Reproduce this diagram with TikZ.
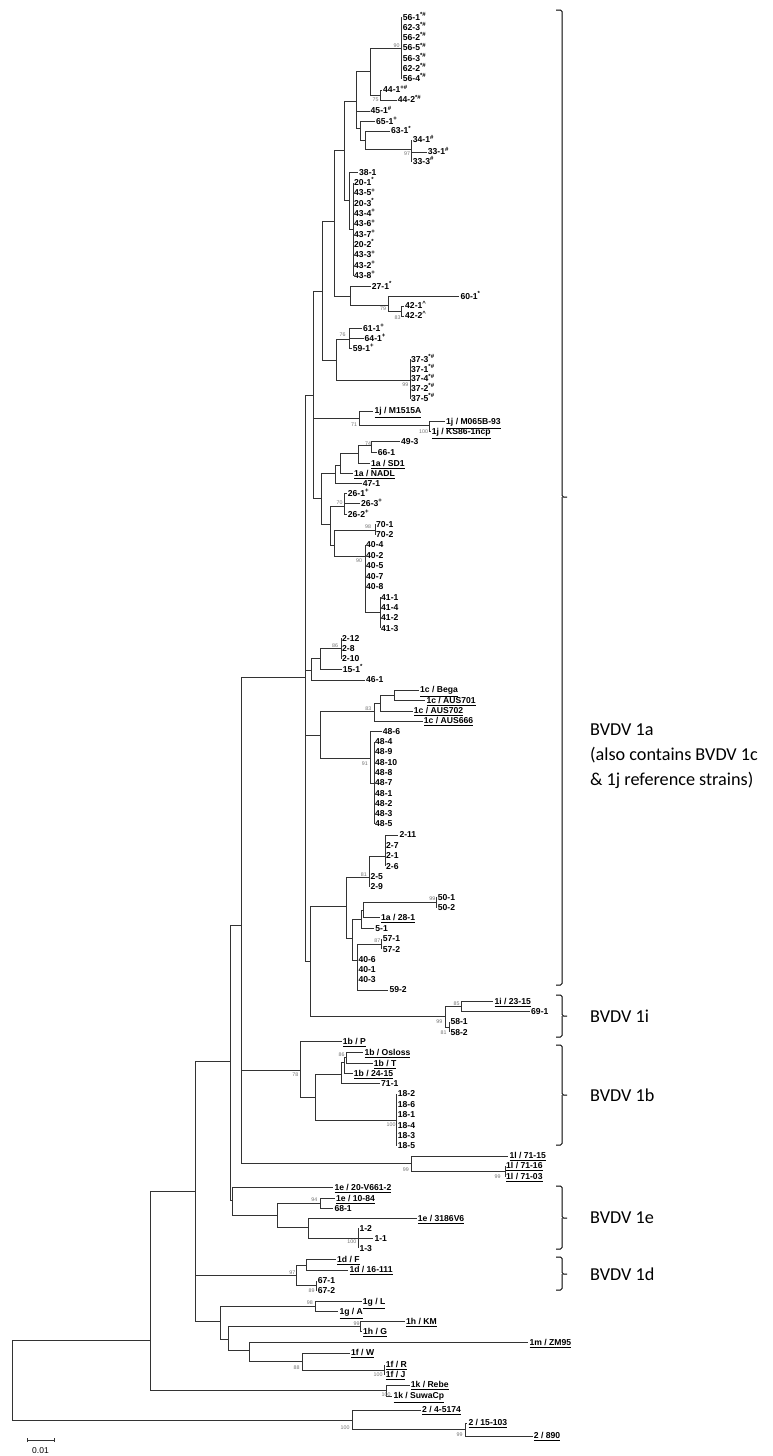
\documentclass[tikz,border=0pt]{standalone}
\usepackage{fontspec}
\setmainfont{Liberation Sans}
\newfontfamily\cladefont{Carlito}
\newcommand{\sus}[1]{\textsuperscript{#1}}
\newcommand{\refst}[1]{\underline{#1}}
\newcommand{\lf}[4]{\node[leaf] (#1) at (#2,#3) {#4};}
\newcommand{\bvbrace}[3]{%
  \draw[brc] (556,#1) -- (562,#1) -- (562,#3) -- (567,#3);
  \draw[brc] (556,#2) -- (562,#2) -- (562,#3);}
\tikzset{
  leaf/.style={anchor=west, inner sep=1pt, font=\fontsize{8.6}{9}\selectfont\bfseries,
    text height=6.3pt, text depth=0.6pt},
  bs/.style={anchor=east, inner sep=0.3pt, font=\fontsize{5.3}{6}\selectfont, text=black!55},
  br/.style={draw=black!80, line width=0.7pt},
  brc/.style={draw=black, line width=1pt, rounded corners=1.5pt},
  clade/.style={anchor=west, font=\cladefont\fontsize{18.2}{25}\selectfont, align=left, inner sep=0pt}
}
\begin{document}
\begin{tikzpicture}[x=1pt,y=-1pt]
  \useasboundingbox (0,0) rectangle (773,1456);

  % internal nodes of the tree
  \foreach \n/\x/\y in {n12/12.7/1380, n150/150/1340, n195/195/1191.7, n230/230/1061,
      n241/241.7/925, n305/305/677.7, n313/313.3/395, n322/322.7/291.7, n334/334.3/221.7,
      n344/344/150, n45/356.7/101.7, n370/370/71.7, n56/401.7/48, n44/380/95, n65/360/128,
      n63/365/140, n33/411.7/149, n38/349/200, n20/353/229, n27/350.7/296.7, n60/388.3/305,
      n42/401.7/311, n37p/336.7/360, n61/349.3/339.3, n37/410/380, n1j/359.3/418.3,
      n1j2/429.3/425.7, n321/321.7/498.3, n105/335/473.3, nNADL/340/465, n175/358.3/453,
      n49/371.7/445, n152/330.7/524.3, n26/344.3/506.7, n162/334/545, n70/375/530,
      n40/365/556, n41/380/612, n95/311.7/670, n15/320/658.3, n2x/341/648.3, n120/320/735,
      n1c/374/711.7, n1c2/380/703.3, n1c3/394.3/695, n48a/370.7/758.3, n48b/374/783,
      n310/310/961.7, n346/346.7/906.7, n2b/369.3/877.3, n2a/385/856.7, n352/352.7/938.3,
      n5/361.7/919, n50a/363.3/910, n50/436.7/902.3, n357/357.3/960, n57/381.7/944,
      n1i/445/1016.7, n1ia/461.7/1006.7, n58/449.3/1027, n1b/300/1070, n315/315.7/1097,
      nOsl/341.7/1074.3, nO2/344/1062, nO3/346.7/1057.8, n18/396.7/1120, n1l/411.7/1163.3,
      n1l2/505/1171, n1e/232.7/1200, n277/277.7/1215, n1084/320/1203.3, n308/308.3/1227,
      n1x/358.3/1238.3, n1d/296.7/1275, n1dF/306.7/1265, n67/316.7/1285.7, n220/220/1321.7,
      n1g/315/1306.7, n228/228.3/1339, n1h/360.7/1326.7, n249/249.2/1350, n1f/302/1361,
      nRJ/384.6/1370, n1k/386.5/1390, n2/352/1420, n2c/465.4/1429.5}
    \coordinate (\n) at (\x,\y);

  % single leaves
  \lf{l441}{382}{90}{44-1\sus{+\#}}
  \lf{l442}{396.7}{100}{44-2\sus{*\#}}
  \lf{l451}{369.5}{111}{45-1\sus{\#}}
  \lf{l651}{375}{121.7}{65-1\sus{+}}
  \lf{l631}{390}{131}{63-1\sus{*}}
  \lf{l341}{411.7}{140}{34-1\sus{\#}}
  \lf{l331}{426.7}{152}{33-1\sus{\#}}
  \lf{l333}{411.7}{161.7}{33-3\sus{\#}}
  \lf{l381}{358}{172.7}{38-1}
  \lf{l271}{370.7}{286.7}{27-1\sus{*}}
  \lf{l601}{459.3}{296.7}{60-1\sus{*}}
  \lf{l421}{404}{306}{42-1\sus{\textasciicircum}}
  \lf{l422}{404}{316}{42-2\sus{\textasciicircum}}
  \lf{l611}{362}{328.3}{61-1\sus{+}}
  \lf{l641}{363.5}{338.3}{64-1\sus{+}}
  \lf{l591}{351.7}{348.3}{59-1\sus{+}}
  \lf{lM15}{373.3}{411}{\refst{1j / M1515A}}
  \lf{lM06}{445}{421.7}{\refst{1j / M065B-93}}
  \lf{lKS}{430.7}{431.7}{\refst{1j / KS86-1ncp}}
  \lf{l493}{400}{441.7}{49-3}
  \lf{l661}{376.7}{452.3}{66-1}
  \lf{lSD1}{370}{463.3}{\refst{1a / SD1}}
  \lf{lNADL}{353}{473.3}{\refst{1a / NADL}}
  \lf{l471}{361.7}{483.3}{47-1}
  \lf{l261}{346.7}{493.3}{26-1\sus{+}}
  \lf{l263}{360}{503.7}{26-3\sus{+}}
  \lf{l262}{346.7}{514.3}{26-2\sus{+}}
  \lf{l701}{375}{524.3}{70-1}
  \lf{l702}{375}{535}{70-2}
  \lf{l151}{341.7}{669.3}{15-1\sus{*}}
  \lf{l461}{365}{680}{46-1}
  \lf{lBega}{419}{690}{\refst{1c / Bega}}
  \lf{l701c}{425.3}{700.7}{\refst{1c / AUS701}}
  \lf{l702c}{412.7}{711}{\refst{1c / AUS702}}
  \lf{l666}{422.7}{721}{\refst{1c / AUS666}}
  \lf{l486}{381.7}{731.7}{48-6}
  \lf{l211}{398.3}{835}{2-11}
  \lf{l25}{369.3}{876.7}{2-5}
  \lf{l29}{369.3}{886.7}{2-9}
  \lf{l501}{436.7}{897.3}{50-1}
  \lf{l502}{436.7}{907.7}{50-2}
  \lf{l281}{380}{917.7}{\refst{1a / 28-1}}
  \lf{l51}{374.2}{928.3}{5-1}
  \lf{l571}{381.7}{939}{57-1}
  \lf{l572}{381.7}{949.3}{57-2}
  \lf{l406}{357.3}{960}{40-6}
  \lf{l401}{357.3}{970}{40-1}
  \lf{l403}{357.3}{980}{40-3}
  \lf{l592}{388.3}{990}{59-2}
  \lf{l2315}{493.3}{1001.7}{\refst{1i / 23-15}}
  \lf{l691}{530}{1011.7}{69-1}
  \lf{l581}{449.3}{1021.7}{58-1}
  \lf{l582}{449.3}{1032.3}{58-2}
  \lf{lP}{341.7}{1041.7}{\refst{1b / P}}
  \lf{lOsl}{363.3}{1052.3}{\refst{1b / Osloss}}
  \lf{lT}{372.7}{1063.3}{\refst{1b / T}}
  \lf{l2415}{352.7}{1073.3}{\refst{1b / 24-15}}
  \lf{l711}{380}{1083.3}{71-1}
  \lf{l7115}{508.3}{1156}{\refst{1l / 71-15}}
  \lf{l7116}{505}{1166}{\refst{1l / 71-16}}
  \lf{l7103}{505}{1176.7}{\refst{1l / 71-03}}
  \lf{lV661}{333.3}{1187.3}{\refst{1e / 20-V661-2}}
  \lf{l1084}{335}{1198.3}{\refst{1e / 10-84}}
  \lf{l681}{333.3}{1208.3}{68-1}
  \lf{l3186}{416.7}{1218.3}{\refst{1e / 3186V6}}
  \lf{l12}{358.3}{1228.3}{1-2}
  \lf{l11}{373.3}{1238.3}{1-1}
  \lf{l13}{358.3}{1248.3}{1-3}
  \lf{lF}{336}{1259.3}{\refst{1d / F}}
  \lf{l16111}{348.3}{1270}{\refst{1d / 16-111}}
  \lf{l671}{316.7}{1280.7}{67-1}
  \lf{l672}{316.7}{1290.7}{67-2}
  \lf{lL}{361.7}{1301.7}{\refst{1g / L}}
  \lf{lA}{338.3}{1311.7}{\refst{1g / A}}
  \lf{lKM}{405}{1321.7}{\refst{1h / KM}}
  \lf{lG}{362}{1331.7}{\refst{1h / G}}
  \lf{lZM}{528.3}{1342.7}{\refst{1m / ZM95}}
  \lf{lW}{350}{1353}{\refst{1f / W}}
  \lf{lR}{384.6}{1364.5}{\refst{1f / R}}
  \lf{lJ}{384.6}{1375}{\refst{1f / J}}
  \lf{lRebe}{409.6}{1385}{\refst{1k / Rebe}}
  \lf{lSuwa}{392.3}{1396}{\refst{1k / SuwaCp}}
  \lf{l45174}{421}{1410}{\refst{2 / 4-5174}}
  \lf{l15103}{467.3}{1423}{\refst{2 / 15-103}}
  \lf{l890}{532.7}{1436}{\refst{2 / 890}}

  % clusters of identical sequences
  \foreach \t [count=\i] in {56-1,62-3,56-2,56-5,56-3,62-2,56-4}
    {\node[leaf] (c56\i) at (401.7,{17.3+10.25*(\i-1)}) {\t\sus{*\#}};
     \draw[br] (n56) |- (c56\i.west);}
  \foreach \t [count=\i] in {20-1\sus{*},43-5\sus{+},20-3\sus{*},43-4\sus{+},43-6\sus{+},
      43-7\sus{+},20-2\sus{*},43-3\sus{+},43-2\sus{+},43-8\sus{+}}
    {\node[leaf] (c20\i) at (353,{182.7+10.33*(\i-1)}) {\t};
     \draw[br] (n20) |- (c20\i.west);}
  \foreach \t [count=\i] in {37-3,37-1,37-4,37-2,37-5}
    {\node[leaf] (c37\i) at (410,{359.3+9.85*(\i-1)}) {\t\sus{*\#}};
     \draw[br] (n37) |- (c37\i.west);}
  \foreach \t [count=\i] in {40-4,40-2,40-5,40-7,40-8}
    {\node[leaf] (c40\i) at (365,{545+10.4*(\i-1)}) {\t};
     \draw[br] (n40) |- (c40\i.west);}
  \foreach \t [count=\i] in {41-1,41-4,41-2,41-3}
    {\node[leaf] (c41\i) at (380,{597.3+10.3*(\i-1)}) {\t};
     \draw[br] (n41) |- (c41\i.west);}
  \foreach \t [count=\i] in {2-12,2-8,2-10}
    {\node[leaf] (c2x\i) at (341,{638.3+10.3*(\i-1)}) {\t};
     \draw[br] (n2x) |- (c2x\i.west);}
  \foreach \t [count=\i] in {48-4,48-9,48-10,48-8,48-7,48-1,48-2,48-3,48-5}
    {\node[leaf] (c48\i) at (374,{741.7+10.3*(\i-1)}) {\t};
     \draw[br] (n48b) |- (c48\i.west);}
  \foreach \t [count=\i] in {2-7,2-1,2-6}
    {\node[leaf] (c2a\i) at (385,{845.7+10.3*(\i-1)}) {\t};
     \draw[br] (n2a) |- (c2a\i.west);}
  \foreach \t [count=\i] in {18-2,18-6,18-1,18-4,18-3,18-5}
    {\node[leaf] (c18\i) at (396.7,{1094+10.4*(\i-1)}) {\t};
     \draw[br] (n18) |- (c18\i.west);}

  % branches
  \foreach \p/\c in {n12/n150, n12/n2, n150/n195, n150/n1k, n195/n230, n195/n1d, n195/n220,
      n230/n241, n230/n1e, n241/n305, n241/n1b, n241/n1l,
      n305/n313, n305/n95, n305/n120, n305/n310, n313/n322, n313/n1j, n313/n321,
      n322/n334, n322/n37p, n334/n344, n334/n27, n344/n45, n344/n38,
      n45/n370, n45/l451.west, n45/n65, n370/n56, n370/n44, n44/l441.west, n44/l442.west,
      n65/l651.west, n65/n63, n63/l631.west, n63/n33,
      n33/l341.west, n33/l331.west, n33/l333.west, n38/l381.west, n38/n20,
      n27/l271.west, n27/n60, n60/l601.west, n60/n42, n42/l421.west, n42/l422.west,
      n37p/n61, n37p/n37, n61/l611.west, n61/l641.west, n61/l591.west,
      n1j/lM15.west, n1j/n1j2, n1j2/lM06.west, n1j2/lKS.west,
      n321/n105, n321/n152, n105/nNADL, n105/l471.west, nNADL/n175, nNADL/lNADL.west,
      n175/n49, n175/lSD1.west, n49/l493.west, n49/l661.west,
      n152/n26, n152/n162, n26/l261.west, n26/l263.west, n26/l262.west,
      n162/n70, n162/n40, n70/l701.west, n70/l702.west, n40/n41,
      n95/n15, n95/l461.west, n15/n2x, n15/l151.west,
      n120/n1c, n120/n48a, n1c/n1c2, n1c/l666.west, n1c2/n1c3, n1c2/l702c.west,
      n1c3/lBega.west, n1c3/l701c.west, n48a/l486.west, n48a/n48b,
      n310/n346, n310/n1i, n346/n2b, n346/n352, n2b/n2a, n2b/l25.west, n2b/l29.west,
      n2a/l211.west, n352/n5, n352/n357, n5/n50a, n5/l51.west, n50a/n50, n50a/l281.west,
      n50/l501.west, n50/l502.west, n357/n57, n357/l406.west, n357/l401.west,
      n357/l403.west, n357/l592.west, n57/l571.west, n57/l572.west,
      n1i/n1ia, n1i/n58, n1ia/l2315.west, n1ia/l691.west, n58/l581.west, n58/l582.west,
      n1b/lP.west, n1b/n315, n315/nOsl, n315/n18, nOsl/nO2, nOsl/l711.west,
      nO2/nO3, nO2/l2415.west, nO3/lOsl.west, nO3/lT.west,
      n1l/l7115.west, n1l/n1l2, n1l2/l7116.west, n1l2/l7103.west,
      n1e/lV661.west, n1e/n277, n277/n1084, n277/n308, n1084/l1084.west, n1084/l681.west,
      n308/l3186.west, n308/n1x, n1x/l12.west, n1x/l11.west, n1x/l13.west,
      n1d/n1dF, n1d/n67, n1dF/lF.west, n1dF/l16111.west, n67/l671.west, n67/l672.west,
      n220/n1g, n220/n228, n1g/lL.west, n1g/lA.west, n228/n1h, n228/n249,
      n1h/lKM.west, n1h/lG.west, n249/lZM.west, n249/n1f, n1f/lW.west, n1f/nRJ,
      nRJ/lR.west, nRJ/lJ.west, n1k/lRebe.west, n1k/lSuwa.west,
      n2/l45174.west, n2/n2c, n2c/l15103.west, n2c/l890.west}
    \draw[br] (\p) |- (\c);

  % bootstrap values
  \foreach \v/\x/\y [count=\i] in {90/400/46, 75/379/100, 97/410.5/154, 79/386.5/309,
      83/401/317.3, 76/346/335, 99/408.7/384.3, 71/357.5/424.3, 100/428.5/431.7,
      74/371.5/444, 70/343/503, 98/371.5/527, 90/362.5/561, 86/338.5/645.7,
      83/371.7/709, 91/368.3/763.3, 81/367.3/874.3, 99/435.7/898.3, 87/380.7/941,
      85/460/1003.3, 99/442.7/1021.7, 81/447/1032.3, 86/345/1055, 78/298.7/1075,
      100/396/1125, 99/409.3/1169.3, 99/501/1176.7, 94/317.7/1199.3, 100/356.7/1241.7,
      97/295.7/1272.7, 89/315/1290.7, 98/313.3/1302.7, 99/360/1324, 88/300/1368,
      100/383/1375, 100/391/1395, 100/350/1428, 99/463/1435}
    \node[bs] (bs\i) at (\x,\y) {\v};

  % genotype brackets
  \bvbrace{10}{985}{497}
  \bvbrace{995}{1037}{1016}
  \bvbrace{1045}{1145}{1095}
  \bvbrace{1186}{1249}{1218}
  \bvbrace{1257}{1290}{1274}
  \node[clade] (g1a) at (590,756) {BVDV 1a\\(also contains BVDV 1c\\\& 1j reference strains)};
  \node[clade] (g1i) at (590,1016) {BVDV 1i};
  \node[clade] (g1b) at (590,1095) {BVDV 1b};
  \node[clade] (g1e) at (590,1218) {BVDV 1e};
  \node[clade] (g1d) at (590,1274) {BVDV 1d};

  % scale bar
  \coordinate (sbl) at (27,1440);
  \coordinate (sbr) at (54,1440);
  \draw[br] (sbl) -- (sbr);
  \draw[br] ([yshift=-2pt]sbl) -- ([yshift=2pt]sbl);
  \draw[br] ([yshift=-2pt]sbr) -- ([yshift=2pt]sbr);
  \node[font=\fontsize{8.5}{9}\selectfont, inner sep=0pt] (sbt) at (40.5,1451) {0.01};
\end{tikzpicture}
\end{document}
